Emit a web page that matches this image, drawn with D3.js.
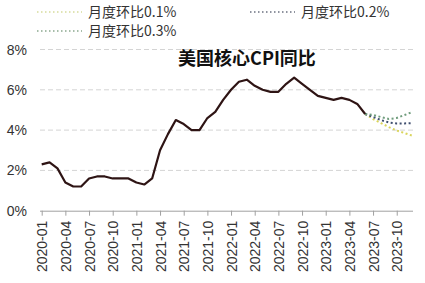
<!DOCTYPE html>
<html>
<head>
<meta charset="utf-8">
<script src="https://cdn.jsdelivr.net/npm/d3@7"></script>
<style>
  body { margin: 0; background: #fff; }
  svg { display: block; }
</style>
</head>
<body>
<div id="chart"></div>
<script>
// months 2020-01 .. 2023-12
const months = d3.range(48).map(i => {
    const y = 2020 + Math.floor(i / 12), m = (i % 12) + 1;
    return y + "-" + (m < 10 ? "0" + m : m);
});
const tickLabels = months.filter((d, i) => i % 3 === 0 && i < 46);

// actual core CPI YoY, 2020-01 .. 2023-06
const coreCPI = [2.3, 2.4, 2.1, 1.4, 1.2, 1.2, 1.6, 1.7, 1.7, 1.6, 1.6, 1.6,
    1.4, 1.3, 1.6, 3.0, 3.8, 4.5, 4.3, 4.0, 4.0, 4.6, 4.9, 5.5,
    6.0, 6.4, 6.5, 6.2, 6.0, 5.9, 5.9, 6.3, 6.6, 6.3, 6.0, 5.7,
    5.6, 5.5, 5.6, 5.5, 5.3, 4.8];

// scenarios 2023-06 .. 2023-12
const projStart = 41;
const mom01 = [4.8, 4.55, 4.35, 4.15, 3.98, 3.85, 3.72];
const mom02 = [4.8, 4.65, 4.5, 4.38, 4.33, 4.33, 4.35];
const mom03 = [4.8, 4.75, 4.65, 4.55, 4.6, 4.75, 4.9];

const series = [
    { name: "月度环比0.1%", values: mom01, color: "#d9d45a", legendColor: "#d6dc9c" },
    { name: "月度环比0.2%", values: mom02, color: "#3f4e6e", legendColor: "#6b7080" },
    { name: "月度环比0.3%", values: mom03, color: "#6f9c7c", legendColor: "#8aa88e" }
];
const yTicks = [0, 2, 4, 6, 8];

const width = 425, height = 283;
const svg = d3.select("#chart").append("svg")
    .attr("width", width)
    .attr("height", height);

const x = d3.scalePoint().domain(months).range([41.7, 412.5]);
const y = d3.scaleLinear().domain([0, 8]).range([210.7, 49.5]);

// gridlines
svg.selectAll("line.grid")
    .data(yTicks.filter(d => d > 0))
    .enter()
    .append("line")
    .attr("class", "grid")
    .attr("x1", 40).attr("x2", 413)
    .attr("y1", d => y(d)).attr("y2", d => y(d))
    .attr("stroke", "#d4d4d4")
    .attr("stroke-dasharray", "5,3");

// y labels
svg.selectAll("text.ylab")
    .data(yTicks)
    .enter()
    .append("text")
    .attr("class", "ylab")
    .attr("x", 27)
    .attr("y", d => y(d))
    .attr("dy", "0.36em")
    .attr("text-anchor", "end")
    .style("font-family", "Liberation Sans, Arial, sans-serif")
    .style("font-size", "14px")
    .style("fill", "#333")
    .text(d => d + "%");

// x axis
const xAxis = d3.axisBottom(x)
    .tickValues(tickLabels)
    .tickSize(5)
    .tickSizeOuter(0);
const gx = svg.append("g")
    .attr("transform", "translate(0," + y(0) + ")")
    .call(xAxis);
gx.select(".domain").attr("stroke", "#a0a0a0").attr("d", "M40,0.5H413");
gx.selectAll(".tick line").attr("stroke", "#a0a0a0");
gx.selectAll(".tick text")
    .attr("transform", "rotate(-90)")
    .attr("x", -10)
    .attr("y", 0)
    .attr("dy", "0.36em")
    .attr("text-anchor", "end")
    .style("font-family", "Liberation Sans, Arial, sans-serif")
    .style("font-size", "14px")
    .style("fill", "#333");

const line = d3.line()
    .x(d => x(d.m))
    .y(d => y(d.v));

// projections
series.forEach(s => {
    svg.append("path")
        .datum(s.values.map((v, i) => ({ m: months[projStart + i], v: v })))
        .attr("d", line)
        .attr("fill", "none")
        .attr("stroke", s.color)
        .attr("stroke-width", 2)
        .attr("stroke-dasharray", "2,2.5");
});

// actual line
svg.append("path")
    .datum(coreCPI.map((v, i) => ({ m: months[i], v: v })))
    .attr("d", line)
    .attr("fill", "none")
    .attr("stroke", "#2e1414")
    .attr("stroke-width", 2.2)
    .attr("stroke-linejoin", "round");

// title
svg.append("text")
    .attr("x", 247)
    .attr("y", 65)
    .attr("text-anchor", "middle")
    .style("font-family", "Noto Sans CJK SC, sans-serif")
    .style("font-weight", "bold")
    .style("font-size", "18px")
    .style("fill", "#111")
    .text("美国核心CPI同比");

// legend
const legendPos = [[37, 12], [250, 12], [37, 31]];
const lg = svg.selectAll("g.legend")
    .data(series)
    .enter()
    .append("g")
    .attr("class", "legend")
    .attr("transform", (d, i) => "translate(" + legendPos[i][0] + "," + legendPos[i][1] + ")");
lg.append("line")
    .attr("x1", 0).attr("x2", 45)
    .attr("y1", 0).attr("y2", 0)
    .attr("stroke", d => d.legendColor)
    .attr("stroke-width", 1.5)
    .attr("stroke-dasharray", "1.5,2.5");
lg.append("text")
    .attr("x", 51)
    .attr("y", 0)
    .attr("dy", "0.36em")
    .style("font-family", "Noto Sans CJK SC, sans-serif")
    .style("font-size", "14px")
    .style("fill", "#333")
    .text(d => d.name);
</script>
</body>
</html>
